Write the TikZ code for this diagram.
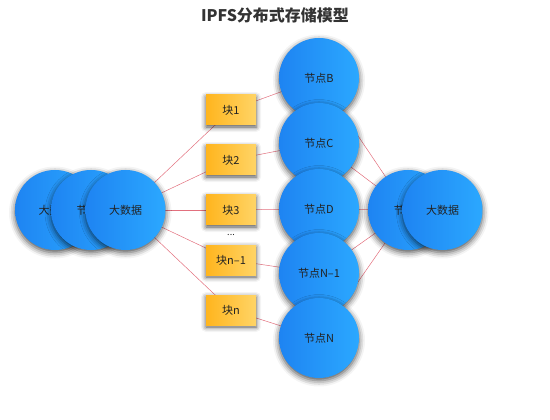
\documentclass[tikz,border=0pt]{standalone}
\usepackage{fontspec}
\setmainfont{Noto Sans CJK SC}
\usetikzlibrary{shadows.blur,backgrounds}
\definecolor{blueL}{HTML}{1E84F2}
\definecolor{blueR}{HTML}{2BA8FF}
\definecolor{orL}{HTML}{FFB51E}
\definecolor{orR}{HTML}{FFD466}
\definecolor{lnk}{HTML}{E2707E}
\definecolor{txt}{HTML}{222222}
\tikzset{
  bignode/.style={circle, minimum size=80pt, inner sep=0pt, left color=blueL, right color=blueR,
    blur shadow={shadow xshift=0pt, shadow yshift=-2.5pt, shadow blur radius=6pt, shadow opacity=70},
    font=\fontsize{11}{13}\selectfont, text=txt},
  blk/.style={rectangle, minimum width=50pt, minimum height=30pt, inner sep=0pt, left color=orL, right color=orR,
    blur shadow={shadow xshift=0pt, shadow yshift=-2pt, shadow blur radius=5pt, shadow opacity=70},
    font=\fontsize{11}{13}\selectfont, text=txt},
  link/.style={draw=lnk, line width=0.5pt}
}
\begin{document}
\begin{tikzpicture}[x=1pt,y=-1pt]
\useasboundingbox (0,0) rectangle (550,420);
\node[font=\fontsize{16}{19}\selectfont\bfseries, text=black!80] (title) at (275,15) {IPFS分布式存储模型};
% blocks
\node[blk] (b1) at (231,110) {块1};
\node[blk] (b2) at (231,160) {块2};
\node[blk] (b3) at (231,210) {块3};
\node[blk] (b4) at (231,260) {块n–1};
\node[blk] (b5) at (231,310) {块n};
\node[font=\fontsize{9}{10}\selectfont, text=txt] (dots) at (231,235) {...};
% left circles
\node[bignode] (l1) at (55,210) {大数据};
\node[bignode] (l2) at (91,210) {节点A};
\node[bignode] (L) at (125.5,210) {大数据};
% middle circles
\node[bignode] (mB) at (319,78) {节点B};
\node[bignode] (mC) at (319,143) {节点C};
\node[bignode] (mD) at (319,209) {节点D};
\node[bignode] (mN1) at (319,273) {节点N–1};
\node[bignode] (mN) at (319,338) {节点N};
% right circles
\node[bignode] (R) at (408,210) {节点X};
\node[bignode] (r2) at (442.5,210) {大数据};
% links
\begin{pgfonlayer}{background}
\foreach \b in {b1,b2,b3,b4,b5}{\draw[link] (L.center) -- (\b.center);}
\draw[link] (b1.center) -- (mB.center);
\draw[link] (b2.center) -- (mC.center);
\draw[link] (b3.center) -- (mD.center);
\draw[link] (b4.center) -- (mN1.center);
\draw[link] (b5.center) -- (mN.center);
\foreach \n in {mB,mC,mD,mN1,mN}{\draw[link] (\n.center) -- (R.center);}
\end{pgfonlayer}
\end{tikzpicture}
\end{document}
